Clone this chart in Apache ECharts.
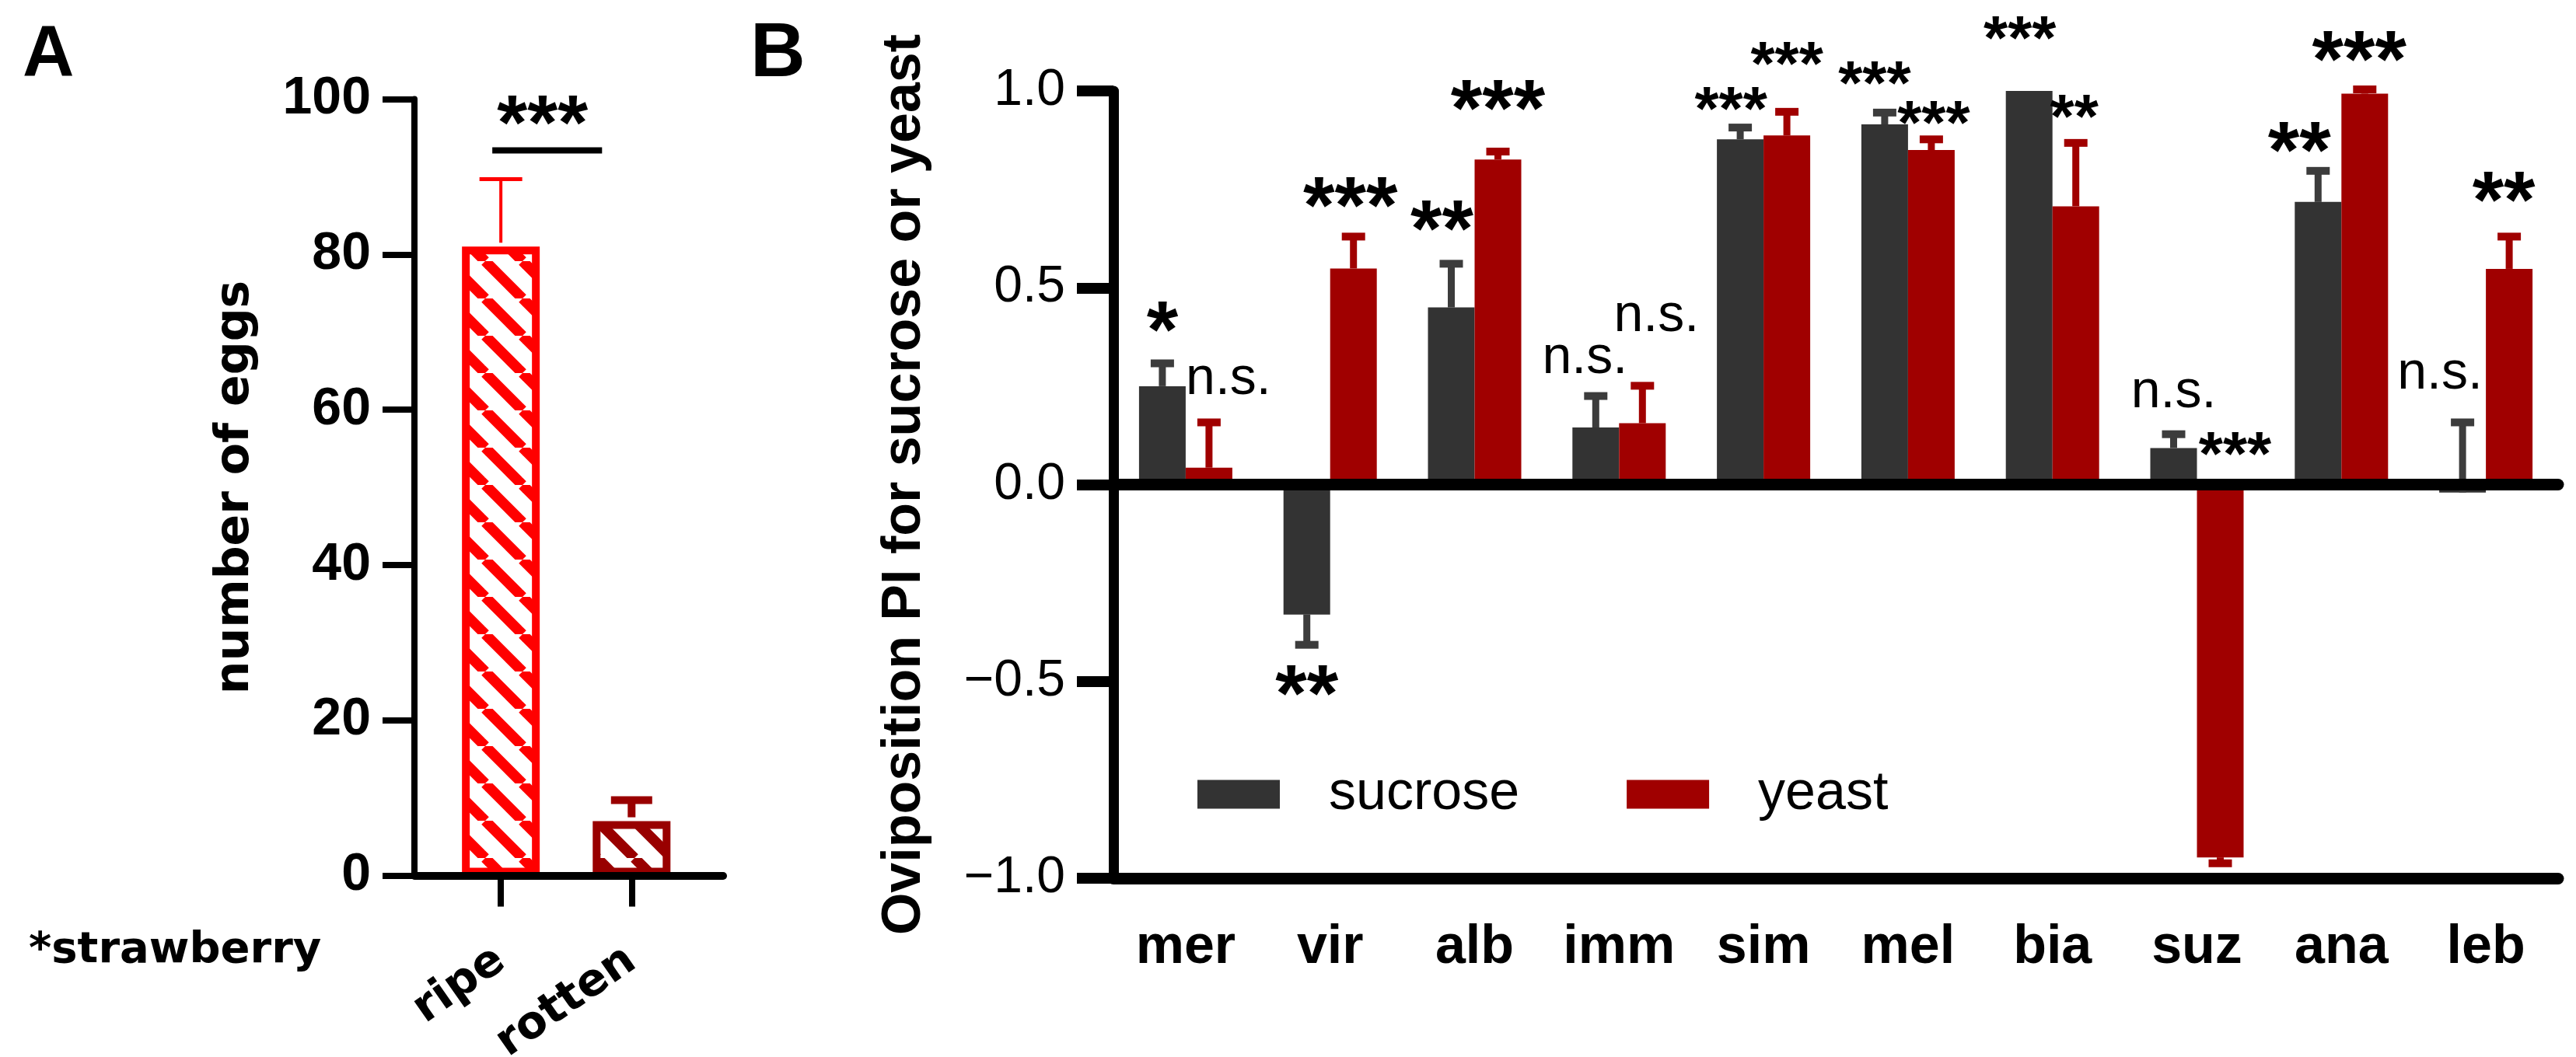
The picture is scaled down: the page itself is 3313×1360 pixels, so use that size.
<!DOCTYPE html>
<html>
<head>
<meta charset="utf-8">
<title>Oviposition preference</title>
<script src="https://cdn.jsdelivr.net/npm/echarts@6/dist/echarts.min.js"></script>
<style>
html, body { margin: 0; padding: 0; background: #fff; }
#main { width: 3313px; height: 1360px; }
</style>
</head>
<body>
<div id="main"></div>
<script>
// ---- panel A: strawberry ripe vs rotten ----
var fruitStates = ['ripe', 'rotten'];
var eggMeans = [81, 7];
var eggSem = [8.7, 2.7];
var eggTicks = [0, 20, 40, 60, 80, 100];
var eggSig = '***';

// ---- panel B: oviposition PI per species ----
var species = ['mer', 'vir', 'alb', 'imm', 'sim', 'mel', 'bia', 'suz', 'ana', 'leb'];
var sucroseMean = [0.25, -0.33, 0.45, 0.145, 0.877, 0.915, 1.0, 0.093, 0.718, -0.02];
var sucroseTip = [0.308, -0.407, 0.561, 0.225, 0.907, 0.945, 1.0, 0.128, 0.797, 0.158];
var yeastMean = [0.043, 0.549, 0.826, 0.156, 0.887, 0.85, 0.707, -0.947, 0.993, 0.548];
var yeastTip = [0.158, 0.63, 0.846, 0.251, 0.947, 0.877, 0.868, -0.962, 1.004, 0.63];
var sucroseSig = ['*', '**', '**', 'n.s.', '***', '***', '***', 'n.s.', '**', 'n.s.'];
var yeastSig = ['n.s.', '***', '***', 'n.s.', '***', '***', '**', '***', '***', '**'];
var piTicks = [-1, -0.5, 0, 0.5, 1];

var SUCROSE = '#333333', YEAST = '#a00000';
var RIPE = '#ff0000', ROTTEN = '#990000';
var ARIAL = '"Liberation Sans", Arial, sans-serif';
var VERDANA = '"DejaVu Sans", Verdana, sans-serif';

// hand placement of the significance marks, [dx, dy, size] in px from the whisker tip
var BIG = 104, SMALL = 80, NS = 68;
var sucroseNudge = [[0, -59, BIG], [0, 47, BIG], [-12, -61, BIG], [-14, -45, NS], [-12, -37, SMALL],
  [-13, -51, SMALL], [-12, -81, SMALL], [0, -50, NS], [-24, -42, BIG], [-29, -59, NS]];
var yeastNudge = [[25, -52, NS], [-4, -56, BIG], [0, -72, BIG], [18, -86, NS], [0, -75, SMALL],
  [3, -34, SMALL], [-2, -47, SMALL], [19, -52, SMALL], [-7, -55, BIG], [-7, -63, BIG]];

function hatch(color) {
  var p = 48, c = document.createElement('canvas');
  c.width = p; c.height = p;
  var ctx = c.getContext('2d');
  ctx.fillStyle = '#fff';
  ctx.fillRect(0, 0, p, p);
  ctx.strokeStyle = color;
  ctx.lineWidth = 13.5;
  [-p, 0, p].forEach(function (k) {
    ctx.beginPath();
    ctx.moveTo(k, 0);
    ctx.lineTo(k + p, p);
    ctx.stroke();
  });
  return { image: c, repeat: 'repeat' };
}

function fmtPI(v) {
  var s = Math.abs(v).toFixed(1);
  return v < 0 ? '\u2212' + s : s;
}

function whisker(means, tips, shift, color, stem, cap, capW) {
  return function (params, api) {
    var i = params.dataIndex;
    if (tips[i] === means[i]) return null;
    var a = api.coord([api.value(0), means[i]]);
    var b = api.coord([api.value(0), tips[i]]);
    var x = a[0] + shift;
    return {
      type: 'group',
      children: [
        { type: 'line', shape: { x1: x, y1: a[1], x2: x, y2: b[1] }, style: { stroke: color, lineWidth: stem } },
        { type: 'line', shape: { x1: x - capW / 2, y1: b[1], x2: x + capW / 2, y2: b[1] }, style: { stroke: color, lineWidth: cap } }
      ]
    };
  };
}

function marks(means, tips, texts, nudges, shift) {
  return function (params, api) {
    var i = params.dataIndex;
    var n = nudges[i];
    var anchor = n[1] > 0 ? tips[i] : Math.max(tips[i], means[i], 0);
    var p = api.coord([api.value(0), anchor]);
    var star = texts[i].indexOf('*') >= 0;
    var fs = n[2];
    var y = p[1] + n[1] + (star ? 0.22 * fs : -0.05 * fs);
    return {
      type: 'text',
      style: {
        text: texts[i], x: p[0] + shift + n[0], y: y,
        align: 'center', verticalAlign: 'middle',
        font: (star ? 'bold ' : '') + fs + 'px ' + ARIAL,
        fill: '#000'
      }
    };
  };
}

var chart = echarts.init(document.getElementById('main'), null, { renderer: 'canvas' });

var option = {
  backgroundColor: '#fff',
  animation: false,
  grid: [
    { left: 533, top: 127.5, width: 397, height: 999, outerBoundsMode: 'none' },
    { left: 1432, top: 117, width: 1858, height: 1013, outerBoundsMode: 'none' }
  ],
  xAxis: [
    {
      gridIndex: 0, type: 'value', min: -0.661, max: 1.7,
      splitLine: { show: false },
      axisLine: { onZero: false, lineStyle: { color: '#000', width: 10 } },
      axisTick: { customValues: [0, 1], length: 40, lineStyle: { color: '#000', width: 8 } },
      axisLabel: {
        customValues: [0, 1], rotate: 35, margin: 104,
        formatter: function (v) { return fruitStates[Math.round(v)]; },
        fontFamily: VERDANA, fontWeight: 'bold', fontSize: 58, color: '#000'
      },
      z: 5
    },
    {
      gridIndex: 1, type: 'category', data: species, position: 'bottom',
      axisLine: { onZero: false, lineStyle: { color: '#000', width: 15 } },
      axisTick: { alignWithLabel: true, interval: 0, length: 45, lineStyle: { color: '#000', width: 11 } },
      axisLabel: { interval: 0, margin: 55, fontFamily: ARIAL, fontWeight: 'bold', fontSize: 70, color: '#000' },
      z: 5
    },
    {
      gridIndex: 1, type: 'category', data: species, position: 'top',
      axisLine: { onZero: true, lineStyle: { color: '#000', width: 15 } },
      axisTick: { show: false }, axisLabel: { show: false },
      z: 5
    }
  ],
  yAxis: [
    {
      gridIndex: 0, type: 'value', min: eggTicks[0], max: eggTicks[eggTicks.length - 1], interval: 20,
      splitLine: { show: false },
      axisLine: { show: true, onZero: false, lineStyle: { color: '#000', width: 8 } },
      axisTick: { show: true, length: 41, lineStyle: { color: '#000', width: 8 } },
      axisLabel: { margin: 56, fontFamily: ARIAL, fontWeight: 'bold', fontSize: 68, color: '#000' },
      name: 'number of eggs', nameLocation: 'middle', nameGap: 200,
      nameTextStyle: { fontFamily: VERDANA, fontWeight: 'bold', fontSize: 60, color: '#000' },
      z: 5
    },
    {
      gridIndex: 1, type: 'value', min: piTicks[0], max: piTicks[piTicks.length - 1], interval: 0.5,
      splitLine: { show: false },
      axisLine: { show: true, onZero: false, lineStyle: { color: '#000', width: 13 } },
      axisTick: { show: true, length: 47, lineStyle: { color: '#000', width: 14 } },
      axisLabel: { margin: 62, formatter: fmtPI, fontFamily: ARIAL, fontSize: 66, color: '#000' },
      name: 'Oviposition PI for sucrose or yeast', nameLocation: 'middle', nameGap: 233,
      nameTextStyle: { fontFamily: ARIAL, fontWeight: 'bold', fontSize: 70, color: '#000' },
      z: 5
    }
  ],
  legend: {
    data: ['sucrose', 'yeast'], left: 1540, top: 987, padding: 0,
    icon: 'rect', itemWidth: 106, itemHeight: 37, itemGap: 138,
    textStyle: { fontFamily: ARIAL, fontSize: 70, color: '#000', padding: [0, 0, 0, 58] }
  },
  graphic: [
    { type: 'text', left: 29, top: 26, style: { text: 'A', font: 'bold 92px ' + ARIAL, fill: '#000' } },
    { type: 'text', left: 965, top: 22, style: { text: 'B', font: 'bold 98px ' + ARIAL, fill: '#000' } },
    { type: 'text', left: 37, top: 1195, style: { text: '*strawberry', font: 'bold 56px ' + VERDANA, fill: '#000' } }
  ],
  series: [
    {
      type: 'bar', name: 'eggs', xAxisIndex: 0, yAxisIndex: 0, barWidth: 100,
      data: eggMeans.map(function (v, i) {
        var c = i === 0 ? RIPE : ROTTEN;
        return { value: [i, v], itemStyle: { color: hatch(c), borderColor: c, borderWidth: 10 } };
      }),
      z: 2
    },
    {
      type: 'custom', name: 'eggs sem', xAxisIndex: 0, yAxisIndex: 0, z: 3,
      data: eggMeans.map(function (v, i) { return [i, v, v + eggSem[i]]; }),
      renderItem: function (params, api) {
        var i = params.dataIndex;
        var a = api.coord([i, api.value(1)]);
        var b = api.coord([i, api.value(2)]);
        var c = i === 0 ? RIPE : ROTTEN;
        var stem = i === 0 ? 4 : 10, capW = i === 0 ? 55 : 53;
        return {
          type: 'group',
          children: [
            { type: 'line', shape: { x1: a[0], y1: a[1] - 5, x2: a[0], y2: b[1] }, style: { stroke: c, lineWidth: stem } },
            { type: 'line', shape: { x1: a[0] - capW / 2, y1: b[1], x2: a[0] + capW / 2, y2: b[1] }, style: { stroke: c, lineWidth: stem === 4 ? 5 : 10 } }
          ]
        };
      }
    },
    {
      type: 'custom', name: 'eggs sig', xAxisIndex: 0, yAxisIndex: 0, z: 3,
      data: [[0, eggMeans[0] + eggSem[0]]],
      renderItem: function (params, api) {
        var top = api.coord([0, api.value(1)]);
        var x1 = top[0] - 11;
        var x2 = api.coord([1, 0])[0] - 38;
        var y = top[1] - 37;
        return {
          type: 'group',
          children: [
            { type: 'line', shape: { x1: x1, y1: y, x2: x2, y2: y }, style: { stroke: '#000', lineWidth: 8 } },
            { type: 'text', style: { text: eggSig, x: (x1 + x2) / 2 - 6, y: y - 51 + 22, align: 'center', verticalAlign: 'middle', font: 'bold 100px ' + ARIAL, fill: '#000' } }
          ]
        };
      }
    },
    {
      type: 'bar', name: 'sucrose', xAxisIndex: 1, yAxisIndex: 1, data: sucroseMean,
      barWidth: 60, barGap: '0%', itemStyle: { color: SUCROSE }, z: 2
    },
    {
      type: 'bar', name: 'yeast', xAxisIndex: 1, yAxisIndex: 1, data: yeastMean,
      barWidth: 60, barGap: '0%', itemStyle: { color: YEAST }, z: 2
    },
    {
      type: 'custom', name: 'sucrose sem', xAxisIndex: 1, yAxisIndex: 1, z: 3,
      data: species.map(function (s, i) { return [i, sucroseMean[i], sucroseTip[i]]; }),
      renderItem: whisker(sucroseMean, sucroseTip, -30, '#3c3c3c', 9, 10, 30)
    },
    {
      type: 'custom', name: 'yeast sem', xAxisIndex: 1, yAxisIndex: 1, z: 3,
      data: species.map(function (s, i) { return [i, yeastMean[i], yeastTip[i]]; }),
      renderItem: whisker(yeastMean, yeastTip, 30, YEAST, 9, 10, 30)
    },
    {
      type: 'custom', name: 'sucrose sig', xAxisIndex: 1, yAxisIndex: 1, z: 6,
      data: species.map(function (s, i) { return [i, sucroseTip[i]]; }),
      renderItem: marks(sucroseMean, sucroseTip, sucroseSig, sucroseNudge, -30)
    },
    {
      type: 'custom', name: 'yeast sig', xAxisIndex: 1, yAxisIndex: 1, z: 6,
      data: species.map(function (s, i) { return [i, yeastTip[i]]; }),
      renderItem: marks(yeastMean, yeastTip, yeastSig, yeastNudge, 30)
    }
  ]
};

chart.setOption(option);
</script>
</body>
</html>
